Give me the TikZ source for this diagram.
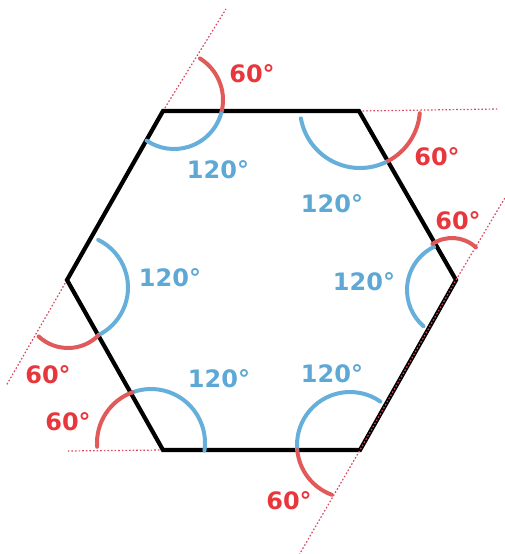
\documentclass[tikz,border=0pt]{standalone}
\usepackage{fontspec}
\setsansfont{DejaVu Sans}
\usepackage{xcolor}
\usepackage{tikz}
\usetikzlibrary{calc}

\definecolor{angred}{HTML}{E8373C}
\definecolor{arcred}{HTML}{E05A5A}
\definecolor{angblue}{HTML}{5EA8D5}
\definecolor{arcblue}{HTML}{66AFDB}
\definecolor{guidered}{HTML}{D9485F}

\begin{document}
\begin{tikzpicture}[x=1pt,y=-1pt,
  edge/.style={line width=4.2pt,black,line join=miter},
  guide/.style={guidered,line width=1.2pt,dash pattern=on 1.6pt off 2.0pt},
  inarc/.style={arcblue,line width=4pt,line cap=round},
  outarc/.style={arcred,line width=4pt,line cap=round},
  deg/.style={font=\sffamily\bfseries\fontsize{24}{28}\selectfont,inner sep=0pt}]
\useasboundingbox (0,0) rectangle (505,554);
% corners of the hexagon
\coordinate (A) at (163,111);
\coordinate (B) at (359,111);
\coordinate (C) at (456,280);
\coordinate (D) at (360,450);
\coordinate (E) at (163,450);
\coordinate (F) at (67,280);
% free ends of the extended sides
\coordinate (a1) at (226,9);
\coordinate (b1) at (497,109);
\coordinate (c1) at (506,196);
\coordinate (d1) at (299,555);
\coordinate (e1) at (66,451);
\coordinate (f1) at (6,386);
\draw[guide] (A) -- (a1);
\draw[guide] (F) -- (f1);
\draw[guide] (E) -- (e1);
\draw[guide] (B) -- (b1);
\draw[edge] (A) -- (B) -- (C) -- (D) -- (E) -- (F) -- cycle;
\draw[guide] (d1) -- (D) -- (C) -- (c1);
% interior and exterior angle marks
\foreach \cx/\cy/\r/\sa/\ea in {174/100/49/12/124, 360/108/60/170/62,
    455/290/48/244/131, 350/445/53/-55/-185.5, 151/443/54/-110/8, 75/287.5/53/-64/64}{
  \draw[inarc] (\cx,\cy) ++(\sa:\r) arc[start angle=\sa,end angle=\ea,radius=\r];
}
\foreach \cx/\cy/\r/\sa/\ea in {174/100/49/12/-58, 360/108/60/62/5,
    452/273/35/-124/-47, 350/445/53/174.5/110, 151/443/54/250/176, 68/305/43/45/133}{
  \draw[outarc] (\cx,\cy) ++(\sa:\r) arc[start angle=\sa,end angle=\ea,radius=\r];
}
% labels
\foreach \i/\x/\y in {1/218/170, 2/332/204, 3/364/282, 4/170/278, 5/219/379, 6/332/374}{
  \node[deg,angblue] (in\i) at (\x,\y) {120°};
}
\foreach \i/\x/\y in {1/252/74, 2/437/157, 3/458/221, 4/48/375, 5/68/422, 6/289/501}{
  \node[deg,angred] (out\i) at (\x,\y) {60°};
}
\end{tikzpicture}
\end{document}
